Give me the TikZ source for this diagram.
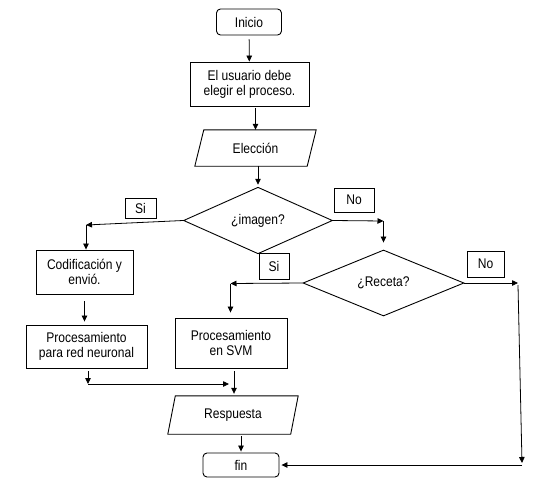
\documentclass[tikz,border=0pt]{standalone}
\usepackage{fontspec}
\newfontfamily\fcfont{Liberation Sans}[FakeStretch=0.86]
\usetikzlibrary{shapes.geometric,arrows.meta}
\tikzset{
  base/.style={draw=black, line width=0.9pt, align=center, inner sep=0pt,
    font=\fcfont\fontsize{14}{15}\selectfont},
  term/.style={base, rounded corners=4pt},
  proc/.style={base},
  lab/.style={base},
  dec/.style={base, diamond},
  io/.style={align=center, inner sep=0pt, font=\fcfont\fontsize{14}{15}\selectfont},
  arr/.style={line width=0.8pt, -{Triangle[length=6pt,width=5.5pt]}},
}
\begin{document}
\begin{tikzpicture}[x=1pt,y=-1pt]
\useasboundingbox[fill=white] (0,0) rectangle (536,483);
% nodes
\node[term, minimum width=65pt, minimum height=26pt] (ini) at (249,22) {Inicio};
\node[proc, minimum width=119pt, minimum height=44pt] (usr) at (249.5,84) {El usuario debe\\elegir el proceso.};
\node[io, minimum width=121pt, minimum height=36pt] (ele) at (255.5,148) {Elección};
\draw[line width=0.9pt] ([xshift=9pt]ele.north west) -- (ele.north east) -- ([xshift=-9pt]ele.south east) -- (ele.south west) -- cycle;
\node[dec, minimum width=149pt, minimum height=55pt] (img) at (258,220.5) {¿imagen?};
\node[lab, minimum width=31pt, minimum height=20pt] (si1) at (140.5,208) {Si};
\node[lab, minimum width=40pt, minimum height=24pt] (no1) at (354,200) {No};
\node[proc, minimum width=97pt, minimum height=44pt] (cod) at (84.5,272) {Codificación y\\envió.};
\node[proc, minimum width=121pt, minimum height=43pt] (red) at (86.5,346.5) {Procesamiento\\para red neuronal};
\node[dec, minimum width=161pt, minimum height=66pt] (rec) at (383.5,283) {\raisebox{3pt}{¿Receta?}};
\node[lab, minimum width=30pt, minimum height=26pt] (si2) at (274,266) {Si};
\node[lab, minimum width=37pt, minimum height=26pt] (no2) at (485.5,264) {No};
\node[proc, minimum width=112pt, minimum height=50pt] (svm) at (231,343) {Procesamiento\\en SVM};
\node[io, minimum width=130pt, minimum height=38pt] (res) at (233,415) {Respuesta};
\draw[line width=0.9pt] ([xshift=7.5pt]res.north west) -- (res.north east) -- ([xshift=-7.5pt]res.south east) -- (res.south west) -- cycle;
\node[term, minimum width=76pt, minimum height=24pt] (fin) at (241,465) {fin};
% bend points
\coordinate (c1) at (86,225);
\coordinate (c2) at (88,384);
\coordinate (c3) at (229,384);
\coordinate (c4) at (383.5,221);
\coordinate (c5) at (230.5,283.5);
\coordinate (c6) at (518,283);
\coordinate (c7) at (522,465);
% connectors
\draw[arr, shorten <=4pt] (ini) -- (usr);
\draw[arr, shorten <=2pt] (usr.south -| ele.north) -- (ele.north);
\draw[arr, shorten >=2pt] (ele.south -| img.north) -- (img.north);
\draw[arr] (img.west) -- (c1);
\draw[arr] (c1) -- (c1 |- cod.north);
\draw[arr, shorten <=7pt, shorten >=3pt] (cod.south) -- (cod.south |- red.north);
\draw[arr, shorten <=3pt] (red.south -| c2) -- (c2);
\draw[arr] (c2) -- (c3);
\draw[arr, shorten <=3pt, shorten >=2pt] ([xshift=3pt]svm.south) -- ([xshift=3pt]svm.south |- res.north);
\draw[arr, shorten <=2pt, shorten >=1pt] (res.south -| fin.north) -- (fin.north);
\draw[arr] (img.east) -- (c4);
\draw[arr, shorten >=7pt] (c4) -- (rec.north);
\draw[arr] (rec.west) -- (c5);
\draw[arr, shorten >=5pt] (c5) -- (c5 |- svm.north);
\draw[arr] (rec.east) -- (c6);
\draw[arr] ([yshift=-2pt]c6) -- ([yshift=2pt]c7);
\draw[arr, shorten >=2pt] (c7) -- (fin.east);
\end{tikzpicture}
\end{document}
